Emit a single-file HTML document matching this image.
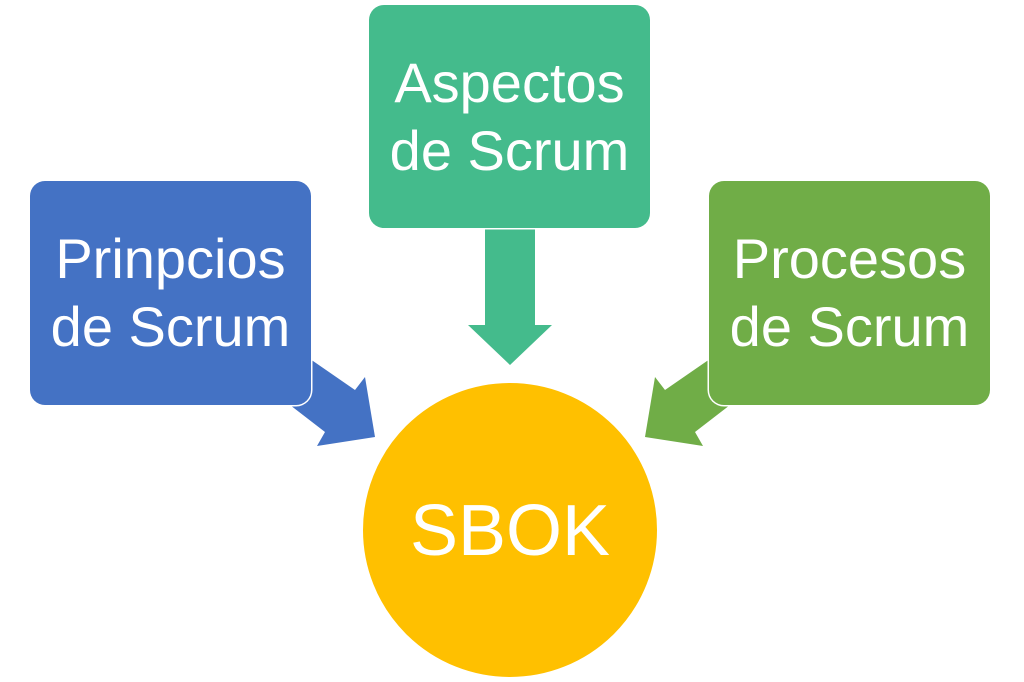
<!DOCTYPE html>
<html><head><meta charset="utf-8"><style>
html,body{margin:0;padding:0;background:#fff;}
body{width:1024px;height:682px;position:relative;overflow:hidden;font-family:"Liberation Sans",sans-serif;}
.box{position:absolute;border-radius:15px;color:#fff;display:flex;align-items:center;justify-content:center;text-align:center;font-size:56px;line-height:68px;box-shadow:0 0 0 1.5px #fff;}
</style></head><body>
<svg width="1024" height="682" style="position:absolute;left:0;top:0">
<polygon points="300,352 355,390 365,377 375,437 317,446 325,432 290,405" fill="#4472C4"/>
<polygon points="720,352 665,390 655,377 645,437 703,446 695,432 730,405" fill="#70AD47"/>
<polygon points="485,220 535,220 535,325 552,325 510,365 468,325 485,325" fill="#44BB8C"/>
<circle cx="510" cy="530" r="148" fill="#FFC000" stroke="#fff" stroke-width="2"/>
<text x="510" y="555" font-size="72" fill="#fff" text-anchor="middle" font-family="Liberation Sans, sans-serif">SBOK</text>
</svg>
<div class="box" style="left:30px;top:181px;width:281px;height:224px;background:#4472C4">Prinpcios<br>de Scrum</div>
<div class="box" style="left:369px;top:5px;width:281px;height:223px;background:#44BB8C">Aspectos<br>de Scrum</div>
<div class="box" style="left:709px;top:181px;width:281px;height:224px;background:#70AD47">Procesos<br>de Scrum</div>
</body></html>
